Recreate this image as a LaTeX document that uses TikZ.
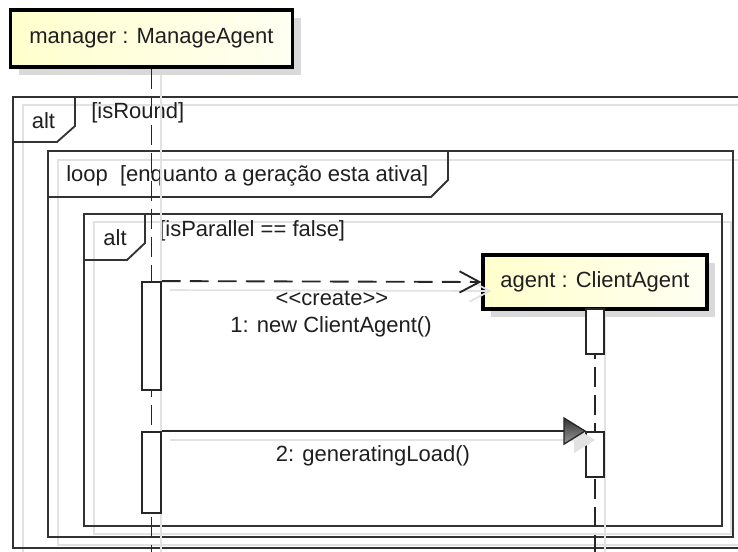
\documentclass[tikz,border=0pt]{standalone}
\usepackage{fontspec}
\setmainfont{Liberation Sans}
\usetikzlibrary{arrows.meta}
\definecolor{objL}{RGB}{255,255,205}
\definecolor{objR}{RGB}{255,255,242}
\definecolor{shadowgray}{RGB}{217,217,217}
\definecolor{lightline}{RGB}{226,226,226}
\begin{document}
\begin{tikzpicture}[x=0.75pt,y=-0.75pt,
 txt/.style={font=\fontsize{16.5}{20}\selectfont, text=black!88, inner sep=0pt},
 frame/.style={draw=black!80, line width=1.4pt},
 fshadow/.style={draw=lightline, line width=1.3pt},
 objbox/.style={txt, draw=black, line width=2.3pt, left color=objL, right color=objR},
 objshadow/.style={fill=shadowgray},
 lifeline/.style={draw=black!85, line width=1.4pt, dash pattern=on 15pt off 6pt},
 llshadow/.style={draw=lightline, line width=1.2pt},
 act/.style={draw=black!85, line width=1.4pt, fill=white, inner sep=0pt},
 createmsg/.style={draw=black!85, line width=1.4pt, dash pattern=on 14pt off 7pt,
   -{Straight Barb[length=15pt,width=16pt,line width=1.4pt]}},
 createshadow/.style={draw=lightline, line width=1.3pt,
   -{Straight Barb[length=15pt,width=16pt,line width=1.3pt]}},
 callmsg/.style={draw=black!85, line width=1.4pt},
 mshadow/.style={draw=lightline, line width=1.3pt},
]
\path[use as bounding box, clip] (0,0) rectangle (738,552);
\fill[white] (0,0) rectangle (738,552);

% frame shadows
\draw[fshadow] (23,105) rectangle (770,556);
\draw[fshadow] (58,160) rectangle (743,545);
\draw[fshadow] (94,222) rectangle (731,534);

% frames
\draw[frame] (13,97) rectangle (770,548);
\draw[frame] (13,142) -- (57,142) -- (75,126) -- (75,97);
\draw[frame] (48,151) rectangle (733,537);
\draw[frame] (48,197) -- (431,197) -- (448,180) -- (448,151);
\draw[frame] (84,214) rectangle (722,526);
\draw[frame] (84,260) -- (127,260) -- (145,243) -- (145,214);

% frame labels
\node[txt] (alt1) at (43.5,121) {alt};
\node[txt, anchor=west] (g1) at (91,113) {[isRound]};
\node[txt, anchor=west] (loopl) at (66,176) {loop\ \ [enquanto a geração esta ativa]};
\node[txt] (alt2) at (115,237.5) {alt};
\node[txt, anchor=west] (g2) at (159,231) {[isParallel == false]};

% object shadows
\fill[objshadow] (18.5,18) rectangle (300.5,75);
\fill[objshadow] (491,263) rectangle (715,317);

% lifeline shadows
\draw[llshadow] (161,75) -- (161,560);
\draw[llshadow] (605,317) -- (605,560);

% objects
\node[objbox, minimum width=211.5pt, minimum height=42.75pt] (mgr) at (151.5,38.5) {manager : ManageAgent};
\node[objbox, minimum width=168pt, minimum height=40.5pt] (agent) at (595,282) {agent : ClientAgent};

% lifelines
\coordinate (mgrend) at (151.5,560);
\coordinate (agentend) at (595,560);
\draw[lifeline] (mgr.south) -- (mgrend);
\draw[lifeline] (agent.south) -- (agentend);

% activations
\node[act, minimum width=14.25pt, minimum height=81pt] (act1) at (151.5,336) {};
\node[act, minimum width=14.25pt, minimum height=60.75pt] (act2) at (151.5,472.5) {};
\node[act, minimum width=13.5pt, minimum height=33.75pt] (aact1) at (595,331.5) {};
\node[act, minimum width=13.5pt, minimum height=33.75pt] (aact2) at (595,454.5) {};

% message shadows
\draw[createshadow] ([shift={(8,9)}]act1.north east) -- ([shift={(10,9)}]agent.west);
\draw[mshadow] ([shift={(8,9)}]act2.north east) -- ([shift={(-10,9)}]aact2.north west);
\fill[lightline] ([shift={(-11,-4)}]aact2.north west) -- ([shift={(10,9)}]aact2.north west) -- ([shift={(-11,22)}]aact2.north west) -- cycle;

% messages
\draw[createmsg] (act1.north east) -- (agent.west);
\draw[callmsg] (act2.north east) -- ([xshift=-10]aact2.north west);
\shade[top color=black!80, bottom color=black!40, draw=black!85, line width=1pt]
  ([shift={(-21,-13)}]aact2.north west) -- (aact2.north west) -- ([shift={(-21,13)}]aact2.north west) -- cycle;

% message labels
\node[txt] (m1a) at (332,298) {<\kern0pt<create>\kern0pt>};
\node[txt] (m1b) at (331,326.5) {1: new ClientAgent()};
\node[txt] (m2) at (373,456) {2: generatingLoad()};
\end{tikzpicture}
\end{document}
